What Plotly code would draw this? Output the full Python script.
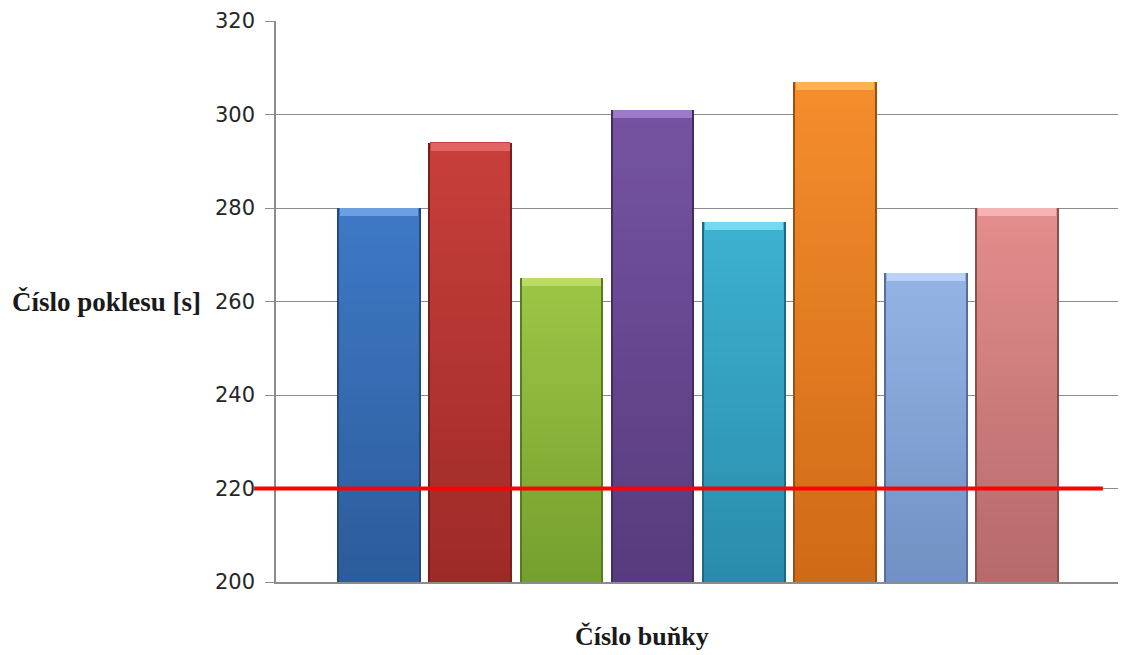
import plotly.graph_objects as go

# Cell numbers and their drop times [s]
cells = ["1", "2", "3", "4", "5", "6", "7", "8"]
drop_times = [280, 294, 265, 301, 277, 307, 266, 280]
limit = 220

# bar palette: bottom shade, top shade, bevel highlight, edge
bottom_colors = ["#2c5c9c", "#9e2a27", "#76a02e", "#583b7e", "#2a8cab", "#cf6a16", "#7190c3", "#b66a6a"]
top_colors = ["#3e79c5", "#c73f3b", "#9dc545", "#7553a1", "#3db1d1", "#f58d2d", "#93b3e5", "#e38d8d"]
cap_colors = ["#6c9fe0", "#e26464", "#badc62", "#9b7bca", "#74d9f1", "#ffb252", "#bad2f5", "#f5b3b3"]
edge_colors = ["#24497a", "#7a1f1d", "#5a7a22", "#432c61", "#1f6a82", "#9c5010", "#566f99", "#8a5050"]

y_min, y_max, y_step = 200, 320, 20
x = list(range(len(cells)))


def mix(c1, c2, t):
    a = [int(c1[i:i + 2], 16) for i in (1, 3, 5)]
    b = [int(c2[i:i + 2], 16) for i in (1, 3, 5)]
    return "#" + "".join(f"{round(p + (q - p) * t):02x}" for p, q in zip(a, b))


fig = go.Figure()

# dark body behind everything, forms the side edges
fig.add_trace(go.Bar(
    x=x, y=[v - y_min for v in drop_times], base=[y_min] * len(x),
    width=0.92, marker=dict(color=edge_colors, line=dict(width=0)),
    hoverinfo="skip", showlegend=False,
))

# vertical gradient built from slices of each bar
n_slices = 40
for k in range(n_slices):
    t = k / (n_slices - 1)
    bases = [y_min + (v - y_min) * k / n_slices for v in drop_times]
    heights = [(v - y_min) / n_slices * 1.02 for v in drop_times]
    fig.add_trace(go.Bar(
        x=x, y=heights, base=bases, width=0.875,
        marker=dict(color=[mix(b, tp, t) for b, tp in zip(bottom_colors, top_colors)],
                    line=dict(width=0)),
        hoverinfo="skip", showlegend=False,
    ))

# bevel highlight along the top of each bar
cap = 1.7
fig.add_trace(go.Bar(
    x=x, y=[cap] * len(x), base=[v - cap for v in drop_times], width=0.86,
    marker=dict(color=cap_colors, line=dict(width=0)),
    customdata=drop_times, hovertemplate="%{customdata}<extra></extra>",
    showlegend=False,
))

# limit line
fig.add_shape(type="line", xref="paper", yref="y", x0=-0.026, x1=0.982,
              y0=limit, y1=limit, line=dict(color="#ff0000", width=4), layer="above")

fig.add_annotation(text="Číslo poklesu [s]", xref="paper", yref="paper",
                   x=-0.316, y=0.5, xanchor="left", yanchor="middle", showarrow=False,
                   font=dict(family="Liberation Serif", size=27, color="#1a1a1a", weight="bold"))
fig.add_annotation(text="Číslo buňky", xref="paper", yref="paper",
                   x=0.4347, y=-0.097, xanchor="center", yanchor="middle", showarrow=False,
                   font=dict(family="Liberation Serif", size=26, color="#1a1a1a", weight="bold"))

fig.update_layout(
    width=1121, height=655,
    margin=dict(l=276, r=3, t=21, b=73),
    paper_bgcolor="white", plot_bgcolor="white",
    barmode="overlay", bargap=0,
    xaxis=dict(range=[-1.133, 8.108], showgrid=False, zeroline=False,
               showticklabels=False, ticks="", showline=True,
               linecolor="#8c8c8c", linewidth=1.5, fixedrange=True),
    yaxis=dict(range=[y_min, y_max], dtick=y_step, tick0=y_min,
               showgrid=True, gridcolor="#8c8c8c", gridwidth=1,
               zeroline=False, showline=True, linecolor="#8c8c8c", linewidth=1.5,
               ticks="outside", ticklen=9, tickcolor="#8c8c8c", tickwidth=1.2,
               ticklabelstandoff=6,
               tickfont=dict(family="DejaVu Sans", size=21, color="#262626"),
               fixedrange=True),
)

fig.write_html("out.html")
